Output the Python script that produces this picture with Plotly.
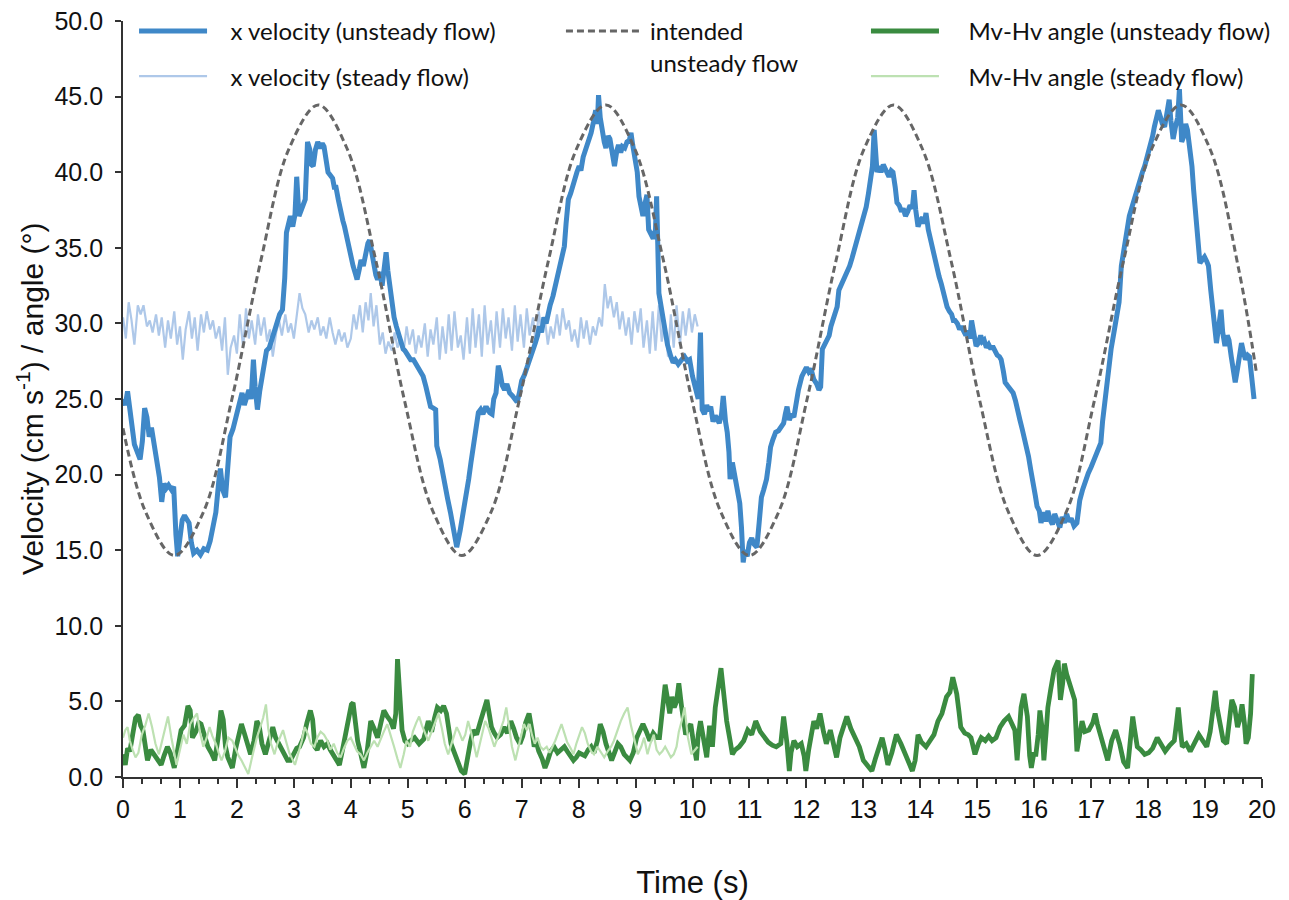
import plotly.graph_objects as go

# ---------------- data ----------------
# x velocity, unsteady flow (cm/s)
t_unsteady = [0.00,0.04,0.08,0.12,0.16,0.20,0.25,0.30,0.34,0.38,0.42,0.46,0.50,0.55,0.60,0.64,0.68,0.72,0.76,0.80,
 0.85,0.89,0.93,0.96,1.00,1.04,1.08,1.12,1.16,1.20,1.24,1.30,1.36,1.42,1.48,1.53,1.58,1.63,1.68,1.71,
 1.75,1.80,1.84,1.88,1.93,1.97,2.01,2.05,2.09,2.13,2.17,2.21,2.25,2.29,2.32,2.36,2.40,2.44,2.48,2.52,
 2.57,2.61,2.65,2.70,2.75,2.80,2.84,2.87,2.91,2.94,2.98,3.02,3.05,3.09,3.13,3.17,3.20,3.24,3.28,3.31,
 3.34,3.38,3.42,3.46,3.50,3.53,3.57,3.60,3.64,3.68,3.71,3.74,3.78,3.82,3.86,3.89,3.93,3.97,4.01,4.04,
 4.08,4.11,4.15,4.18,4.22,4.26,4.30,4.33,4.37,4.40,4.44,4.47,4.51,4.55,4.58,4.62,4.65,4.69,4.72,4.76,
 4.80,4.83,4.88,4.92,4.95,5.00,5.05,5.10,5.13,5.18,5.22,5.27,5.32,5.36,5.40,5.45,5.49,5.51,5.55,5.57,
 5.62,5.66,5.70,5.75,5.80,5.86,5.92,5.98,6.02,6.07,6.11,6.15,6.20,6.24,6.28,6.32,6.36,6.39,6.44,6.48,
 6.51,6.55,6.59,6.62,6.66,6.70,6.74,6.79,6.84,6.88,6.92,6.96,7.00,7.05,7.10,7.15,7.20,7.24,7.28,7.31,
 7.35,7.39,7.43,7.46,7.50,7.55,7.60,7.64,7.68,7.72,7.75,7.78,7.82,7.86,7.90,7.94,7.97,8.01,8.04,8.08,
 8.11,8.15,8.18,8.22,8.26,8.30,8.33,8.35,8.38,8.41,8.45,8.48,8.52,8.55,8.59,8.63,8.67,8.70,8.74,8.77,
 8.81,8.85,8.89,8.92,8.95,8.99,9.03,9.06,9.10,9.13,9.17,9.20,9.23,9.27,9.31,9.35,9.37,9.41,9.45,9.49,
 9.52,9.56,9.62,9.66,9.70,9.75,9.81,9.86,9.91,9.95,10.00,10.05,10.10,10.14,10.17,10.21,10.25,10.28,10.32,10.36,
 10.40,10.43,10.47,10.51,10.54,10.58,10.61,10.64,10.66,10.70,10.75,10.79,10.83,10.86,10.89,10.92,10.96,11.00,11.04,11.08,
 11.13,11.17,11.21,11.25,11.30,11.34,11.37,11.41,11.46,11.51,11.56,11.60,11.63,11.66,11.70,11.74,11.78,11.82,11.86,11.92,
 11.96,12.00,12.04,12.08,12.13,12.18,12.22,12.25,12.28,12.32,12.36,12.40,12.43,12.47,12.51,12.54,12.57,12.61,12.65,12.68,
 12.72,12.76,12.80,12.83,12.87,12.91,12.94,12.98,13.02,13.05,13.09,13.12,13.16,13.19,13.22,13.24,13.28,13.31,13.35,13.38,
 13.42,13.45,13.49,13.52,13.56,13.59,13.63,13.67,13.70,13.74,13.78,13.82,13.86,13.89,13.92,13.96,14.00,14.04,14.07,14.10,
 14.14,14.18,14.22,14.26,14.30,14.33,14.37,14.41,14.44,14.47,14.51,14.55,14.58,14.61,14.65,14.69,14.72,14.76,14.80,14.84,
 14.87,14.90,14.94,14.98,15.02,15.06,15.09,15.12,15.16,15.20,15.24,15.27,15.31,15.35,15.39,15.42,15.46,15.49,15.53,15.58,
 15.63,15.67,15.71,15.75,15.79,15.83,15.86,15.90,15.94,15.98,16.02,16.05,16.09,16.12,16.16,16.20,16.24,16.28,16.32,16.36,
 16.40,16.45,16.49,16.53,16.57,16.61,16.65,16.70,16.75,16.80,16.85,16.90,16.95,17.00,17.05,17.10,17.17,17.20,17.24,17.28,
 17.32,17.35,17.40,17.45,17.49,17.53,17.56,17.60,17.63,17.67,17.71,17.74,17.78,17.82,17.86,17.90,17.94,17.97,18.00,18.04,
 18.08,18.11,18.15,18.18,18.22,18.25,18.29,18.33,18.37,18.40,18.44,18.48,18.52,18.55,18.59,18.63,18.66,18.69,18.73,18.77,
 18.80,18.84,18.88,18.91,18.95,18.99,19.03,19.06,19.10,19.13,19.17,19.20,19.24,19.28,19.31,19.35,19.39,19.42,19.46,19.50,
 19.53,19.57,19.61,19.64,19.68,19.71,19.75,19.78,19.82,19.86]
v_unsteady = [25.0,24.6,25.5,24.2,23.0,22.0,21.5,21.0,22.2,24.4,23.8,22.5,23.1,21.8,21.0,19.8,18.2,19.4,19.1,19.3,
 19.0,19.2,16.0,14.6,15.8,17.0,17.3,17.1,16.8,15.5,14.8,15.0,14.7,15.1,15.0,15.6,16.8,17.5,19.5,20.4,
 19.0,18.5,20.5,22.5,23.0,23.6,24.2,25.0,25.4,24.6,25.2,25.6,25.0,27.6,25.8,24.3,25.5,26.3,27.4,28.2,
 28.4,28.9,29.4,30.2,30.6,30.9,33.0,36.0,36.6,37.1,36.4,37.2,39.7,37.1,37.5,38.0,38.2,42.0,41.5,40.5,
 40.4,41.5,42.0,41.6,41.9,41.7,40.8,40.0,39.8,39.6,39.0,39.0,38.2,37.3,36.8,36.4,35.6,35.0,34.3,33.8,
 33.3,32.9,33.6,34.2,33.8,34.6,35.3,35.5,34.6,33.8,33.2,32.9,33.4,32.5,33.6,34.7,33.5,32.2,31.0,30.4,
 29.8,29.4,28.8,28.3,28.2,27.9,27.6,27.6,27.4,27.0,26.8,26.5,25.8,25.2,24.5,24.4,24.3,21.9,21.4,21.0,
 20.0,19.0,18.4,17.5,16.4,15.2,16.3,17.5,18.6,19.7,20.8,21.9,23.0,24.1,24.3,24.0,24.4,24.4,24.1,24.0,
 25.0,25.4,27.2,26.8,25.9,25.6,26.0,25.4,25.2,25.0,24.8,25.4,26.2,26.6,27.1,27.8,28.2,28.7,29.2,29.8,
 29.4,30.4,30.0,30.7,31.2,31.8,32.7,33.4,34.2,34.8,35.1,36.6,38.2,38.6,39.2,39.6,40.0,40.4,40.1,41.0,
 41.3,41.8,42.2,42.6,43.3,44.1,43.2,45.1,43.6,42.6,42.0,41.6,42.4,42.2,41.2,40.4,41.4,41.8,41.3,41.7,
 41.6,42.0,42.1,42.6,41.8,41.0,40.0,38.4,37.6,37.1,38.0,38.5,36.2,35.8,35.6,36.2,38.4,32.0,31.0,30.2,
 29.4,28.6,27.8,27.4,27.6,27.3,27.6,27.8,27.5,27.6,26.5,25.6,25.0,29.4,24.3,24.0,24.6,24.2,24.5,23.5,
 23.9,23.7,23.4,24.0,25.2,23.5,22.8,21.5,19.7,20.8,19.6,18.8,18.1,16.5,14.2,15.0,14.6,15.5,15.8,15.4,
 15.2,16.8,18.5,19.0,19.7,20.8,21.8,22.3,22.8,22.9,23.2,23.4,24.0,24.5,23.6,24.0,23.8,24.8,25.6,26.5,
 26.9,27.1,26.8,27.0,26.3,26.0,25.6,25.8,28.3,28.6,28.9,29.2,29.8,30.2,30.6,31.1,32.2,32.5,32.8,33.1,
 33.4,33.8,34.3,34.7,35.2,35.6,36.0,36.5,37.0,37.7,38.6,39.3,40.4,42.8,41.2,40.0,40.4,40.0,40.5,40.2,
 39.8,39.7,40.1,40.0,39.0,38.0,37.8,37.4,37.6,37.1,37.4,37.8,37.6,38.8,37.5,36.4,36.8,37.0,36.6,37.3,
 36.2,35.5,35.0,34.2,33.6,33.1,32.6,32.0,31.4,31.1,30.8,30.6,30.2,30.2,30.0,29.6,29.8,29.4,29.2,29.5,
 29.0,30.2,29.4,28.5,28.7,29.2,28.8,28.9,28.4,28.6,28.3,28.5,28.2,27.9,27.8,27.6,26.8,26.1,25.9,25.6,
 25.4,24.9,24.1,23.6,23.0,22.4,22.1,21.2,20.3,19.6,18.6,17.9,17.6,16.8,17.5,16.9,17.6,17.0,16.7,17.4,
 16.9,16.5,17.2,16.8,17.4,16.9,17.1,16.6,16.8,18.3,19.0,19.7,20.1,20.5,21.0,21.5,22.1,23.5,25.0,26.2,
 27.4,28.3,29.4,30.4,31.4,33.8,34.6,35.5,36.2,37.1,37.6,38.0,38.6,39.0,39.6,40.0,40.4,40.8,41.3,41.8,
 42.4,43.0,43.5,44.1,43.6,43.2,43.0,43.9,44.8,43.4,42.2,43.0,43.6,45.5,42.0,42.4,43.2,42.8,41.6,40.4,
 38.8,37.1,35.5,34.0,34.2,34.4,34.1,33.8,32.2,30.9,29.6,28.7,29.8,30.9,29.4,28.5,29.2,28.9,27.8,27.0,
 26.1,27.0,27.9,28.7,28.0,27.6,27.9,27.8,26.4,25.0]

# x velocity, steady flow (cm/s)
t_steady = [0.00,0.05,0.10,0.15,0.20,0.26,0.31,0.36,0.42,0.47,0.52,0.58,0.63,0.68,0.74,0.79,0.84,0.90,0.95,1.00,
 1.05,1.10,1.16,1.21,1.26,1.31,1.37,1.42,1.47,1.53,1.58,1.63,1.69,1.74,1.79,1.84,1.89,1.95,2.00,2.05,
 2.11,2.16,2.21,2.26,2.32,2.37,2.42,2.48,2.53,2.58,2.63,2.69,2.74,2.79,2.85,2.90,2.95,3.00,3.06,3.10,
 3.15,3.20,3.26,3.31,3.36,3.42,3.47,3.52,3.57,3.63,3.68,3.73,3.79,3.84,3.89,3.94,4.00,4.05,4.10,4.16,
 4.21,4.26,4.31,4.35,4.40,4.45,4.51,4.56,4.61,4.66,4.72,4.77,4.82,4.87,4.93,4.98,5.03,5.09,5.14,5.19,
 5.24,5.30,5.35,5.40,5.45,5.51,5.56,5.61,5.67,5.72,5.77,5.82,5.88,5.93,5.98,6.04,6.09,6.14,6.19,6.25,
 6.30,6.35,6.40,6.46,6.51,6.56,6.62,6.67,6.72,6.77,6.83,6.88,6.93,6.98,7.04,7.09,7.14,7.20,7.25,7.30,
 7.35,7.41,7.46,7.51,7.56,7.62,7.67,7.72,7.78,7.83,7.88,7.93,7.99,8.04,8.09,8.14,8.20,8.25,8.30,8.36,
 8.41,8.46,8.51,8.56,8.62,8.67,8.72,8.77,8.83,8.88,8.93,8.98,9.04,9.09,9.14,9.20,9.25,9.30,9.35,9.41,
 9.46,9.51,9.57,9.62,9.67,9.72,9.78,9.83,9.88,9.94,9.99,10.04,10.09]
v_steady = [30.4,29.0,31.4,30.2,28.6,31.2,30.6,31.2,29.8,30.2,29.4,30.6,29.2,30.4,28.4,30.2,29.0,30.8,28.6,29.8,
 27.6,29.6,30.8,29.0,30.4,28.2,30.6,29.4,30.8,29.6,30.2,29.0,29.8,28.2,30.4,26.6,28.4,29.2,28.0,30.6,
 28.4,31.0,29.0,30.2,28.6,30.6,29.2,30.4,28.8,29.6,27.8,29.4,30.2,29.2,30.6,29.4,30.0,29.0,30.8,32.0,
 31.0,30.6,29.4,30.2,29.6,30.4,29.2,29.8,29.0,30.4,29.4,28.6,29.6,28.8,29.4,28.4,29.0,30.6,29.6,31.2,
 29.4,31.4,30.2,32.0,29.8,31.2,28.6,29.4,28.0,28.8,28.2,29.4,28.4,29.0,28.2,29.8,28.6,29.6,28.0,29.2,
 28.4,30.0,27.8,29.6,28.6,30.4,27.6,29.8,28.0,30.6,28.2,30.8,28.4,29.2,27.6,30.4,28.0,31.0,28.4,30.6,
 27.8,31.2,28.6,30.2,28.0,30.8,28.4,31.0,29.0,30.4,28.2,31.2,28.8,30.6,28.4,31.0,29.2,30.4,28.6,30.8,
 29.4,30.2,28.6,29.8,29.0,30.6,29.2,31.0,29.6,30.2,28.8,29.6,28.4,30.4,29.0,30.2,28.6,29.8,29.2,30.4,
 29.8,32.6,31.0,31.8,30.4,31.4,29.6,30.8,29.2,30.4,28.6,30.8,29.4,31.0,28.4,30.2,28.0,30.8,28.2,31.2,
 28.8,30.2,27.8,30.6,28.4,31.2,28.6,30.8,29.2,31.0,29.4,30.6,29.8]

# intended unsteady flow (cm/s)
t_intended = [0.00,0.40,0.90,1.41,1.91,2.42,2.92,3.43,3.93,4.44,4.94,5.45,5.95,6.46,6.96,7.47,7.97,8.48,8.98,9.49,
 9.99,10.50,11.00,11.51,12.01,12.52,13.02,13.53,14.03,14.54,15.04,15.55,16.05,16.56,17.06,17.57,18.07,18.58,19.08,19.59,19.90]
v_intended = [23.07,17.50,14.65,17.50,24.95,34.15,41.60,44.45,41.60,34.15,24.95,17.50,14.65,17.50,24.95,34.15,41.60,44.45,41.60,34.15,
 24.95,17.50,14.65,17.50,24.95,34.15,41.60,44.45,41.60,34.15,24.95,17.50,14.65,17.50,24.95,34.15,41.60,44.45,41.60,33.60,26.80]

# Mv-Hv angle, unsteady flow (degrees)
t_angle_u = [0.00,0.04,0.08,0.12,0.17,0.22,0.27,0.31,0.35,0.39,0.43,0.49,0.55,0.61,0.67,0.72,0.78,0.83,0.87,0.90,
 0.96,1.02,1.08,1.14,1.18,1.22,1.28,1.33,1.37,1.43,1.49,1.55,1.61,1.67,1.72,1.76,1.80,1.84,1.88,1.92,
 1.98,2.03,2.08,2.13,2.19,2.24,2.30,2.35,2.39,2.44,2.50,2.55,2.59,2.63,2.68,2.73,2.78,2.84,2.89,2.94,
 3.00,3.05,3.10,3.17,3.23,3.29,3.33,3.37,3.41,3.47,3.53,3.59,3.64,3.70,3.75,3.80,3.86,3.92,3.97,4.01,
 4.04,4.08,4.12,4.17,4.23,4.29,4.35,4.41,4.47,4.53,4.58,4.64,4.70,4.75,4.79,4.82,4.86,4.90,4.95,5.00,
 5.05,5.12,5.20,5.28,5.36,5.42,5.47,5.52,5.58,5.63,5.68,5.72,5.76,5.82,5.88,5.94,6.00,6.05,6.10,6.15,
 6.21,6.27,6.33,6.39,6.43,6.47,6.52,6.57,6.63,6.69,6.75,6.81,6.86,6.91,6.97,7.02,7.07,7.13,7.18,7.22,
 7.25,7.30,7.36,7.41,7.45,7.51,7.57,7.63,7.69,7.75,7.80,7.86,7.91,7.96,8.01,8.06,8.11,8.17,8.22,8.27,
 8.33,8.38,8.43,8.48,8.53,8.58,8.63,8.69,8.74,8.80,8.85,8.90,8.96,9.02,9.08,9.13,9.19,9.25,9.31,9.37,
 9.42,9.47,9.52,9.56,9.60,9.64,9.68,9.72,9.76,9.81,9.84,9.88,9.92,9.97,10.02,10.07,10.10,10.14,10.19,10.25,
 10.30,10.35,10.40,10.45,10.50,10.54,10.60,10.66,10.70,10.75,10.82,10.90,10.97,11.04,11.11,11.19,11.26,11.33,11.40,11.47,
 11.55,11.60,11.66,11.70,11.73,11.78,11.84,11.91,11.96,11.99,12.04,12.09,12.13,12.18,12.24,12.30,12.35,12.42,12.47,12.53,
 12.59,12.65,12.71,12.78,12.86,12.93,13.00,13.07,13.15,13.21,13.26,13.33,13.38,13.43,13.50,13.58,13.66,13.73,13.80,13.86,
 13.91,13.96,14.02,14.10,14.17,14.24,14.31,14.38,14.46,14.52,14.57,14.61,14.64,14.68,14.71,14.78,14.84,14.89,14.96,15.02,
 15.07,15.14,15.20,15.26,15.33,15.40,15.47,15.55,15.60,15.66,15.70,15.73,15.77,15.82,15.88,15.92,15.95,15.99,16.03,16.07,
 16.10,16.14,16.17,16.21,16.24,16.29,16.35,16.42,16.46,16.50,16.53,16.57,16.60,16.66,16.71,16.75,16.78,16.84,16.89,16.96,
 17.03,17.07,17.11,17.17,17.22,17.29,17.36,17.43,17.50,17.57,17.64,17.69,17.73,17.76,17.81,17.87,17.94,18.01,18.08,18.16,
 18.23,18.30,18.38,18.46,18.50,18.53,18.57,18.60,18.67,18.74,18.81,18.89,18.96,19.03,19.09,19.14,19.18,19.21,19.26,19.32,
 19.38,19.43,19.47,19.52,19.57,19.61,19.65,19.69,19.72,19.76,19.80,19.83]
v_angle_u = [1.5,0.8,1.9,1.7,2.8,3.9,4.1,3.4,3.1,2.0,1.1,1.8,1.5,1.2,0.8,1.4,2.0,1.6,1.0,0.6,
 1.8,3.1,3.4,4.7,4.4,2.6,3.0,3.6,3.5,2.7,2.0,1.6,1.1,2.6,4.4,3.8,2.0,1.3,0.9,0.6,
 1.9,2.8,3.5,2.9,2.0,1.5,2.4,3.7,3.4,2.2,1.5,2.1,2.8,3.3,2.6,2.2,1.8,1.4,1.1,1.1,
 1.6,1.9,2.0,2.6,3.6,4.4,3.8,2.0,1.8,2.4,2.0,2.2,1.8,1.4,1.1,0.8,1.9,3.0,3.9,4.8,
 4.9,3.4,2.4,1.6,0.6,1.8,3.7,3.2,2.6,3.6,4.4,4.0,3.7,3.2,4.2,7.8,5.2,3.1,2.4,2.2,
 2.4,2.6,2.2,2.5,3.7,3.0,3.9,4.6,4.4,4.7,4.2,3.0,2.2,1.6,1.0,0.4,0.2,1.4,2.3,3.1,
 2.8,3.6,4.4,5.1,4.2,3.3,2.9,2.6,2.8,3.3,2.9,3.7,3.2,2.6,2.2,2.7,3.6,4.2,3.1,2.0,
 2.4,1.7,1.2,0.6,1.0,1.7,2.0,1.6,1.8,2.0,1.7,1.4,1.1,1.3,1.6,1.5,1.4,1.8,2.0,1.6,
 2.4,3.5,3.0,2.2,1.5,1.1,1.6,2.2,2.0,1.5,1.3,1.1,1.6,2.6,3.1,3.5,3.0,2.4,2.9,2.6,
 2.6,4.8,6.1,5.2,4.2,5.3,4.6,5.0,6.2,4.6,4.0,2.8,3.2,3.5,2.2,1.1,2.8,3.7,2.6,1.3,
 3.4,2.0,4.6,6.0,7.2,5.8,3.7,2.4,1.5,1.8,2.0,2.4,3.1,2.8,3.7,3.0,2.6,2.3,2.1,2.0,
 2.2,4.0,2.2,0.4,1.6,2.4,2.0,2.2,1.4,0.4,1.8,3.1,3.7,3.2,4.2,3.0,2.2,3.1,2.4,1.3,
 2.6,3.4,4.0,3.2,2.6,2.0,1.1,0.8,0.4,1.2,1.7,2.6,1.8,0.8,1.6,2.8,2.2,1.5,0.9,0.4,
 1.1,2.8,2.3,2.0,2.4,2.8,3.7,4.2,5.3,5.6,6.6,6.0,5.5,4.3,3.3,2.9,2.8,2.6,1.5,2.2,
 2.6,2.4,2.7,2.4,2.6,3.3,3.7,4.0,3.5,3.1,1.1,2.6,4.6,5.5,4.0,1.4,0.6,1.5,1.5,2.8,
 4.4,3.2,1.1,3.0,4.6,5.8,7.1,7.7,5.1,6.2,7.5,6.8,6.4,5.8,5.1,1.7,2.4,3.7,3.0,3.1,
 3.6,4.2,3.5,2.6,2.0,1.1,2.4,3.1,2.2,1.0,0.6,2.4,4.0,3.2,2.0,1.8,1.5,1.6,1.9,2.6,
 2.2,1.7,2.1,2.4,3.6,4.6,3.0,2.0,2.2,1.7,2.2,2.8,2.4,2.0,3.0,4.6,5.7,4.6,3.7,2.4,
 2.2,3.6,5.1,4.6,3.3,3.8,4.8,3.6,2.2,2.6,4.2,6.8]

# Mv-Hv angle, steady flow (degrees)
t_angle_s = [0.00,0.04,0.08,0.12,0.17,0.22,0.27,0.33,0.39,0.45,0.51,0.57,0.63,0.69,0.74,0.79,0.85,0.90,0.94,1.00,
 1.06,1.12,1.18,1.24,1.30,1.35,1.41,1.47,1.52,1.57,1.63,1.68,1.73,1.79,1.85,1.92,1.98,2.03,2.08,2.14,
 2.20,2.26,2.31,2.35,2.41,2.46,2.51,2.55,2.60,2.66,2.71,2.76,2.81,2.86,2.92,2.97,3.02,3.08,3.14,3.19,
 3.25,3.30,3.36,3.41,3.47,3.53,3.59,3.64,3.70,3.76,3.82,3.88,3.94,4.00,4.06,4.11,4.17,4.23,4.29,4.35,
 4.41,4.47,4.53,4.58,4.64,4.70,4.76,4.82,4.87,4.93,4.98,5.04,5.09,5.15,5.20,5.25,5.31,5.36,5.42,5.48,
 5.54,5.60,5.65,5.71,5.76,5.81,5.86,5.91,5.96,6.01,6.06,6.11,6.16,6.21,6.26,6.31,6.36,6.42,6.47,6.52,
 6.58,6.63,6.68,6.73,6.78,6.83,6.89,6.94,6.99,7.04,7.09,7.14,7.18,7.23,7.28,7.33,7.38,7.44,7.49,7.54,
 7.59,7.65,7.70,7.75,7.80,7.86,7.91,7.96,8.01,8.06,8.11,8.16,8.22,8.27,8.33,8.39,8.45,8.51,8.57,8.62,
 8.68,8.74,8.80,8.86,8.92,8.98,9.04,9.10,9.15,9.21,9.26,9.32,9.37,9.42,9.47,9.52,9.57,9.62,9.67,9.72,
 9.76,9.81,9.86,9.92,9.98,10.04,10.09]
v_angle_s = [2.6,3.1,3.3,2.4,1.8,1.3,1.6,2.8,3.4,4.2,3.3,2.2,1.5,2.4,3.2,4.0,2.6,1.5,0.8,1.8,
 2.8,2.2,3.5,3.9,4.2,3.0,2.0,2.6,3.3,2.7,2.2,1.6,1.1,1.7,2.6,2.4,1.8,1.4,1.1,0.7,
 0.2,1.2,2.0,2.6,3.3,3.9,4.8,3.2,2.2,1.5,2.2,2.6,3.1,2.4,1.6,1.2,0.8,1.6,2.4,3.3,
 2.8,2.2,2.0,2.6,3.0,2.8,2.4,1.8,2.2,1.6,1.3,1.9,2.4,2.6,2.1,1.7,1.5,1.1,1.6,2.0,
 2.4,2.0,2.6,3.0,3.5,2.8,2.0,1.2,0.6,1.5,2.4,2.0,3.0,3.6,4.0,3.4,2.8,2.4,3.0,3.6,
 4.2,3.2,2.2,1.5,2.1,2.8,3.3,2.9,2.4,2.8,3.7,3.0,2.2,1.3,2.1,3.0,3.7,3.2,2.6,2.0,
 2.6,3.1,3.7,4.6,3.2,2.0,1.1,1.9,2.6,3.5,3.1,3.5,2.8,2.2,2.6,2.0,1.8,2.0,1.6,2.0,
 2.4,3.0,3.5,2.9,2.3,1.9,1.5,2.2,2.8,3.3,2.9,2.2,1.7,1.5,2.0,1.6,1.3,1.7,2.0,2.4,
 3.1,3.7,4.2,4.6,3.4,2.4,1.5,2.0,2.6,1.5,2.2,2.8,1.8,1.5,1.7,2.0,1.6,1.3,1.5,2.0,
 3.0,3.7,4.6,2.6,1.5,1.8,2.0]

# axis ticks
y_ticks = [0, 5, 10, 15, 20, 25, 30, 35, 40, 45, 50]
y_tick_labels = ["0.0", "5.0", "10.0", "15.0", "20.0", "25.0", "30.0", "35.0", "40.0", "45.0", "50.0"]
x_ticks = list(range(0, 21))

# ---------------- styling ----------------
C_BLUE = "#3F88C8"
C_LBLUE = "#AEC8E9"
C_GRAY = "#666666"
C_GREEN = "#3A8B40"
C_LGREEN = "#BDE1B2"
AXIS = "#333333"
TICK_FONT = dict(family="Liberation Sans, Arial, sans-serif", size=25, color="#111111")
XTITLE_FONT = dict(family="Liberation Sans, Arial, sans-serif", size=31, color="#111111")
YTITLE_FONT = dict(family="Liberation Sans, Arial, sans-serif", size=30, color="#111111")
LEG_FONT = dict(family="Lato, Open Sans, sans-serif", size=24, color="#111111")
NB = "\u00a0"

fig = go.Figure()

fig.add_trace(go.Scatter(x=t_angle_u, y=v_angle_u, mode="lines", name=NB * 4 + "Mv-Hv angle (unsteady flow)",
                         line=dict(color=C_GREEN, width=4.8), legend="legend3", legendgroup="g3",
                         legendrank=1))
fig.add_trace(go.Scatter(x=t_angle_s, y=v_angle_s, mode="lines", name=NB * 4 + "Mv-Hv angle (steady flow)",
                         line=dict(color=C_LGREEN, width=2.2), legend="legend3", legendgroup="g4",
                         legendrank=2))
fig.add_trace(go.Scatter(x=t_steady, y=v_steady, mode="lines", name=NB * 3 + "x velocity (steady flow)",
                         line=dict(color=C_LBLUE, width=2.2), legend="legend", legendgroup="b2",
                         legendrank=2))
fig.add_trace(go.Scatter(x=t_unsteady, y=v_unsteady, mode="lines", name=NB * 3 + "x velocity (unsteady flow)",
                         line=dict(color=C_BLUE, width=5), legend="legend", legendgroup="b1",
                         legendrank=1))
fig.add_trace(go.Scatter(x=t_intended, y=v_intended, mode="lines",
                         name=NB + "intended<br>" + NB + "unsteady flow",
                         line=dict(color=C_GRAY, width=3, dash="7px,4px", shape="spline", smoothing=1.0),
                         legend="legend2", legendgroup="d1"))

leg_common = dict(font=LEG_FONT, bgcolor="rgba(0,0,0,0)", borderwidth=0, orientation="v",
                  xanchor="left", yanchor="top", tracegroupgap=11, valign="top",
                  traceorder="grouped", itemclick=False)

# the page body adds an 8 px offset; margins compensate so the plot area sits where the reference has it
fig.update_layout(
    width=1289, height=900,
    paper_bgcolor="white", plot_bgcolor="white",
    margin=dict(l=115, r=35, t=13, b=131, autoexpand=False),
    showlegend=True,
    legend=dict(x=0.0097, y=1.016, itemwidth=68, **leg_common),
    legend2=dict(x=0.3845, y=1.016, itemwidth=73, **leg_common),
    legend3=dict(x=0.6523, y=1.016, itemwidth=68, **leg_common),
    xaxis=dict(range=[0, 20], tickvals=x_ticks, ticktext=[str(v) for v in x_ticks],
               showline=True, linecolor=AXIS, linewidth=2, ticks="outside", ticklen=9,
               tickwidth=2, tickcolor=AXIS, tickfont=TICK_FONT, showgrid=False, zeroline=False,
               ticklabeloverflow="allow",
               minor=dict(dtick=1/3, tick0=0, ticks="outside", ticklen=5, tickwidth=2, tickcolor=AXIS,
                          showgrid=False),
               title=dict(text="Time (s)", font=XTITLE_FONT, standoff=49)),
    yaxis=dict(range=[0, 50], tickvals=y_ticks, ticktext=[s + NB for s in y_tick_labels],
               showline=True, linecolor=AXIS, linewidth=2, ticks="outside", ticklen=6,
               tickwidth=2, tickcolor=AXIS, tickfont=TICK_FONT, showgrid=False, zeroline=False,
               ticklabeloverflow="allow"),
    annotations=[dict(text="Velocity (cm s<sup>-1</sup>) / angle (°)", font=YTITLE_FONT,
                      textangle=-90, xref="paper", yref="paper", x=-0.0817, y=0.5,
                      xanchor="center", yanchor="middle", showarrow=False)],
)

fig.write_html("out.html")
